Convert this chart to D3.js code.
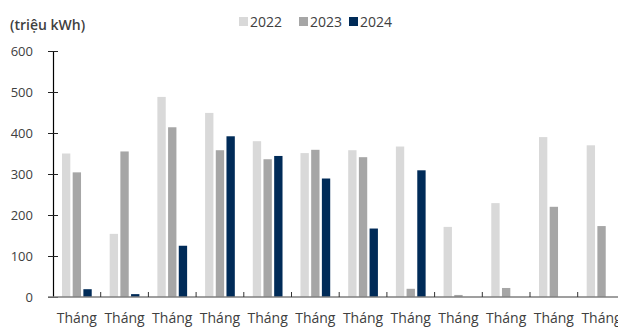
<!DOCTYPE html>
<meta charset="utf-8">
<style>
body { margin: 0; background: #fff; }
text { font-family: "Open Sans", sans-serif; fill: #404040; }
</style>
<body>
<script src="https://cdn.jsdelivr.net/npm/d3@7"></script>
<script>

var months = ["Tháng 1", "Tháng 2", "Tháng 3", "Tháng 4", "Tháng 5", "Tháng 6",
              "Tháng 7", "Tháng 8", "Tháng 9", "Tháng 10", "Tháng 11", "Tháng 12"];
var years = ["2022", "2023", "2024"];
var v2022 = [350, 154, 488, 449, 380, 351, 358, 367, 171, 229, 390, 370];
var v2023 = [304, 355, 414, 358, 336, 359, 341, 20, 5, 22, 220, 173];
var v2024 = [19, 7, 125, 392, 344, 289, 167, 309, 0, 0, 0, 0];
var yTicks = [0, 100, 200, 300, 400, 500, 600];
var colors = ["#d9d9d9", "#a6a6a6", "#002b58"];

var series = [v2022, v2023, v2024];

var width = 618, height = 327;
var left = 53, groupW = 47.7, y0 = 297, yTop = 51;

var svg = d3.select("body").append("svg")
    .attr("width", width)
    .attr("height", height);

var x = d3.scaleBand()
    .domain(months)
    .range([left, left + groupW * months.length])
    .padding(0);

var xs = d3.scaleBand()
    .domain(years)
    .range([0, x.bandwidth()])
    .paddingInner(0.22)
    .paddingOuter(0.84);

var y = d3.scaleLinear()
    .domain([0, 600])
    .range([y0, yTop]);

// bars
years.forEach(function(yr, i) {
  svg.append("g").selectAll("rect")
    .data(series[i])
    .enter()
    .append("rect")
      .attr("x", function(d, j) { return x(months[j]) + xs(yr); })
      .attr("y", function(d) { return y(d); })
      .attr("width", xs.bandwidth())
      .attr("height", function(d) { return y0 - y(d); })
      .style("fill", colors[i]);
});

// y axis
var yAxis = svg.append("g")
    .attr("transform", "translate(" + left + ",0)")
    .call(d3.axisLeft(y).tickValues(yTicks).tickSize(0).tickPadding(20));
yAxis.select(".domain").attr("stroke", "#000").attr("stroke-width", 1.2);
yAxis.selectAll("text").style("font-size", "13px").style("fill", "#404040");
yAxis.selectAll(".tick").append("line")
    .attr("x1", -5).attr("x2", 5)
    .attr("stroke", "#222").attr("stroke-width", 1);

// x axis line + category ticks
svg.append("line")
    .attr("x1", 48).attr("x2", width)
    .attr("y1", y0).attr("y2", y0)
    .attr("stroke", "#7f7f7f").attr("stroke-width", 1.5);

svg.append("g").selectAll("line")
    .data(months.slice(1))
    .enter()
    .append("line")
      .attr("x1", function(d) { return x(d); })
      .attr("x2", function(d) { return x(d); })
      .attr("y1", y0).attr("y2", y0 - 5)
      .attr("stroke", "#333").attr("stroke-width", 1);

// x labels: only the first word fits in the view, as in the source chart
svg.append("g").selectAll("text")
    .data(months)
    .enter()
    .append("text")
      .attr("x", function(d) { return x(d) + x.bandwidth() / 2; })
      .attr("y", 323)
      .attr("text-anchor", "middle")
      .style("font-size", "14px")
      .text(function(d) { return d.split(" ")[0]; });

// unit label
svg.append("text")
    .attr("x", 10).attr("y", 30)
    .style("font-size", "14px")
    .style("font-weight", "600")
    .text("(triệu kWh)");

// legend
var legX = [239, 299, 349];
years.forEach(function(yr, i) {
  svg.append("rect")
    .attr("x", legX[i]).attr("y", 17)
    .attr("width", 9).attr("height", 9)
    .style("fill", colors[i]);
  svg.append("text")
    .attr("x", legX[i] + 11).attr("y", 27)
    .style("font-size", "14px")
    .text(yr);
});

</script>
</body>
